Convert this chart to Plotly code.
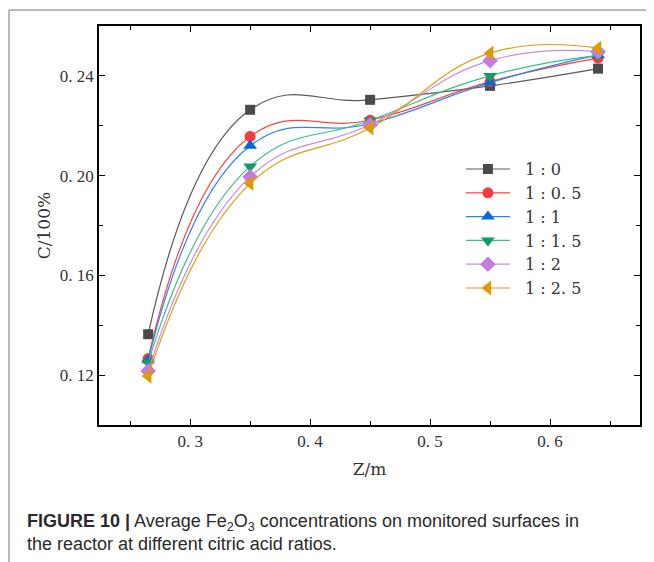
import plotly.graph_objects as go

# Data
z = [0.265, 0.35, 0.45, 0.55, 0.64]
series_names = ["1 : 0", "1 : 0. 5", "1 : 1", "1 : 1. 5", "1 : 2", "1 : 2. 5"]
c_1_0 = [0.1364, 0.2264, 0.2304, 0.2360, 0.2429]
c_1_05 = [0.1267, 0.2157, 0.2222, 0.2377, 0.2471]
c_1_1 = [0.1260, 0.2120, 0.2208, 0.2373, 0.2484]
c_1_15 = [0.1250, 0.2037, 0.2221, 0.2400, 0.2482]
c_1_2 = [0.1217, 0.1995, 0.2204, 0.2461, 0.2497]
c_1_25 = [0.1196, 0.1968, 0.2191, 0.2491, 0.2511]
x_tickvals = [0.3, 0.4, 0.5, 0.6]
x_ticktext = ["0. 3", "0. 4", "0. 5", "0. 6"]
y_tickvals = [0.12, 0.16, 0.20, 0.24]
y_ticktext = ["0. 12", "0. 16", "0. 20", "0. 24"]

values = [c_1_0, c_1_05, c_1_1, c_1_15, c_1_2, c_1_25]
marker_colors = ["#4a4a4a", "#f53b3b", "#0b66dc", "#0c9c64", "#c47be0", "#dd9b00"]
line_colors = ["#5a5a5a", "#f74545", "#2f84e6", "#3bbf88", "#c98ae6", "#e0a010"]
symbols = ["square", "circle", "triangle-up", "triangle-down", "diamond", "triangle-left"]
sizes = [10, 11, 12, 12, 12, 13]

fig = go.Figure()
for name, vals, mc, lc, sym, sz in zip(series_names, values, marker_colors, line_colors, symbols, sizes):
    fig.add_trace(go.Scatter(
        x=z, y=vals, name="\u00a0\u00a0" + name, mode="lines+markers",
        line=dict(color=lc, width=1.2, shape="spline", smoothing=1.3),
        marker=dict(color=mc, symbol=sym, size=sz, line=dict(width=0)),
    ))

serif = "Liberation Serif, DejaVu Serif, serif"
tick_font = dict(family=serif, size=17, color="#333333")

fig.update_xaxes(
    range=[0.224, 0.675], tickvals=x_tickvals, ticktext=x_ticktext,
    showline=True, linecolor="black", linewidth=1.5, mirror="allticks",
    ticks="inside", ticklen=6, tickwidth=1.2, tickcolor="black",
    minor=dict(ticks="inside", ticklen=4, tickwidth=1, tickcolor="black", dtick=0.05, tick0=0.25, showgrid=False),
    showgrid=False, zeroline=False, tickfont=tick_font,
    title=dict(text="Z/m", font=dict(family="DejaVu Serif, serif", size=17, color="#333333"), standoff=13),
)
fig.update_yaxes(
    range=[0.10, 0.26], tickvals=y_tickvals, ticktext=y_ticktext,
    showline=True, linecolor="black", linewidth=1.5, mirror="allticks",
    ticks="inside", ticklen=6, tickwidth=1.2, tickcolor="black",
    minor=dict(ticks="inside", ticklen=4, tickwidth=1, tickcolor="black", dtick=0.02, tick0=0.10, showgrid=False),
    showgrid=False, zeroline=False, tickfont=tick_font,
    title=dict(text="C/100%", font=dict(family="DejaVu Serif, serif", size=17, color="#333333"), standoff=5),
)

# Frame fragments
fig.add_shape(type="line", xref="paper", yref="paper", x0=-0.1664, x1=1.06, y0=1.040, y1=1.040,
              line=dict(color="#777777", width=1))
fig.add_shape(type="line", xref="paper", yref="paper", x0=-0.1664, x1=-0.1664, y0=1.040, y1=-0.40,
              line=dict(color="#777777", width=1))

fig.add_annotation(
    xref="paper", yref="paper", x=-0.1368, y=-0.2105, xanchor="left", yanchor="top",
    align="left", showarrow=False,
    text="<b>FIGURE 10 |</b> Average Fe<sub>2</sub>O<sub>3</sub> concentrations on monitored surfaces in<br>the reactor at different citric acid ratios.",
    font=dict(family="Liberation Sans, Arial, sans-serif", size=18, color="#2a2a2a"),
)

fig.update_layout(
    width=654, height=562,
    margin=dict(l=91, r=22, t=18, b=145),
    paper_bgcolor="white", plot_bgcolor="white",
    legend=dict(x=0.669, y=0.684, xanchor="left", yanchor="top",
                font=dict(family="DejaVu Serif, serif", size=16, color="#333333"),
                bgcolor="rgba(0,0,0,0)", itemwidth=44, tracegroupgap=0),
)

fig.write_html("out.html")
